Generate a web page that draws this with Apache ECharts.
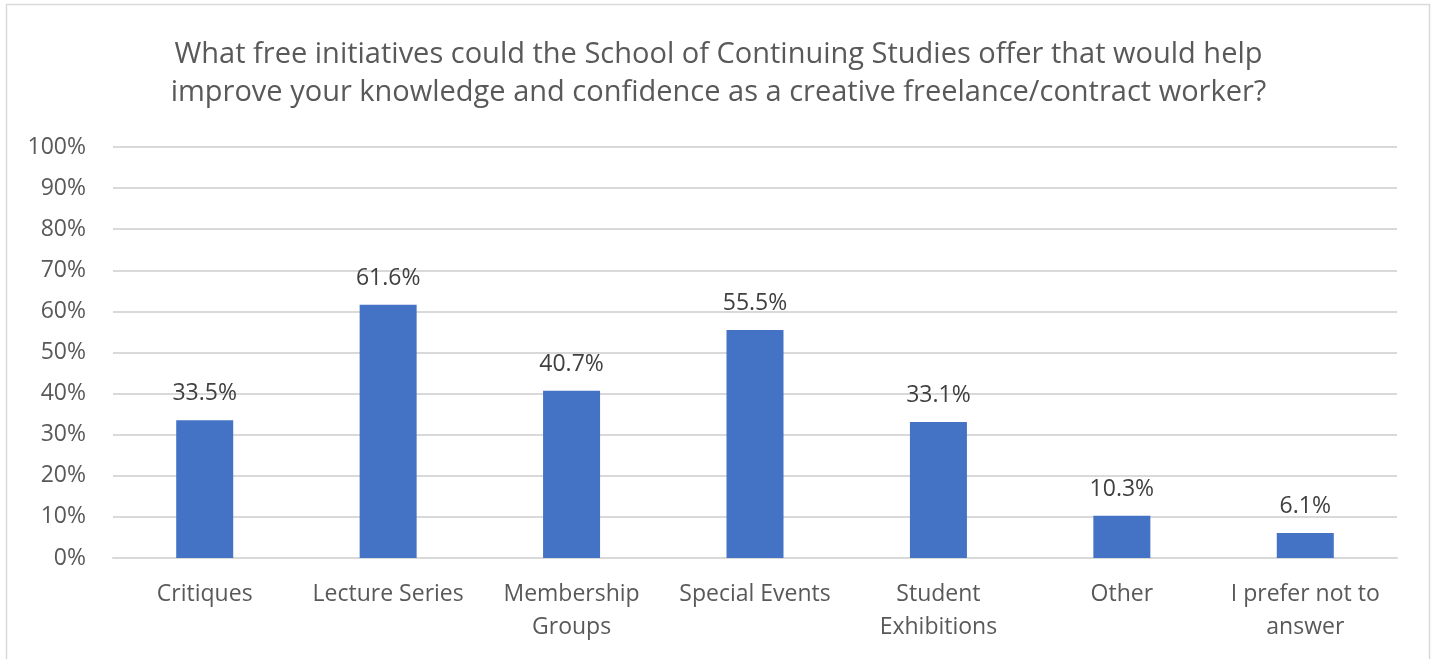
<!DOCTYPE html>
<html>
<head>
<meta charset="utf-8">
<script src="https://cdn.jsdelivr.net/npm/echarts@6/dist/echarts.min.js"></script>
<style>
  html, body { margin: 0; padding: 0; background: #fff; }
  #chart { width: 1437px; height: 659px; }
</style>
</head>
<body>
<div id="chart"></div>
<script>
// Survey responses: share of respondents choosing each free initiative
const categories = ['Critiques', 'Lecture Series', 'Membership\nGroups', 'Special Events', 'Student\nExhibitions', 'Other', 'I prefer not to\nanswer'];
const values = [33.5, 61.6, 40.7, 55.5, 33.1, 10.3, 6.1];
const titleLines = [
  'What free initiatives could the School of Continuing Studies offer that would help',
  'improve your knowledge and confidence as a creative freelance/contract worker?'
];

const font = '"Open Sans", "Noto Sans", sans-serif';
const chart = echarts.init(document.getElementById('chart'));
chart.setOption({
  animation: false,
  backgroundColor: '#ffffff',
  textStyle: { fontFamily: font },
  title: {
    text: titleLines.join('\n'),
    left: 'center',
    top: 31,
    textStyle: { fontFamily: font, fontSize: 29, fontWeight: 'normal', color: '#595959', lineHeight: 38 }
  },
  graphic: [{
    type: 'rect',
    shape: { x: 6.5, y: 4.5, width: 1423, height: 700 },
    style: { fill: 'none', stroke: '#d9d9d9', lineWidth: 1.5 },
    silent: true
  }],
  grid: { left: 113, right: 40, top: 147, bottom: 101, containLabel: false },
  xAxis: {
    type: 'category',
    data: categories,
    axisTick: { show: false },
    axisLine: { show: true, lineStyle: { color: '#d9d9d9', width: 2 } },
    axisLabel: { fontFamily: font, fontSize: 23, color: '#595959', margin: 20, lineHeight: 33, interval: 0 }
  },
  yAxis: {
    type: 'value',
    min: 0,
    max: 100,
    interval: 10,
    axisLine: { show: false },
    axisTick: { show: false },
    splitLine: { lineStyle: { color: '#d9d9d9', width: 2 } },
    axisLabel: { fontFamily: font, fontSize: 23, color: '#595959', margin: 27, formatter: v => v + '%' }
  },
  series: [{
    type: 'bar',
    data: values,
    barWidth: 57,
    itemStyle: { color: '#4472c4' },
    label: {
      show: true,
      position: 'top',
      distance: 15,
      fontFamily: font,
      fontSize: 23,
      color: '#404040',
      formatter: p => p.value.toFixed(1) + '%'
    }
  }]
});
</script>
</body>
</html>
